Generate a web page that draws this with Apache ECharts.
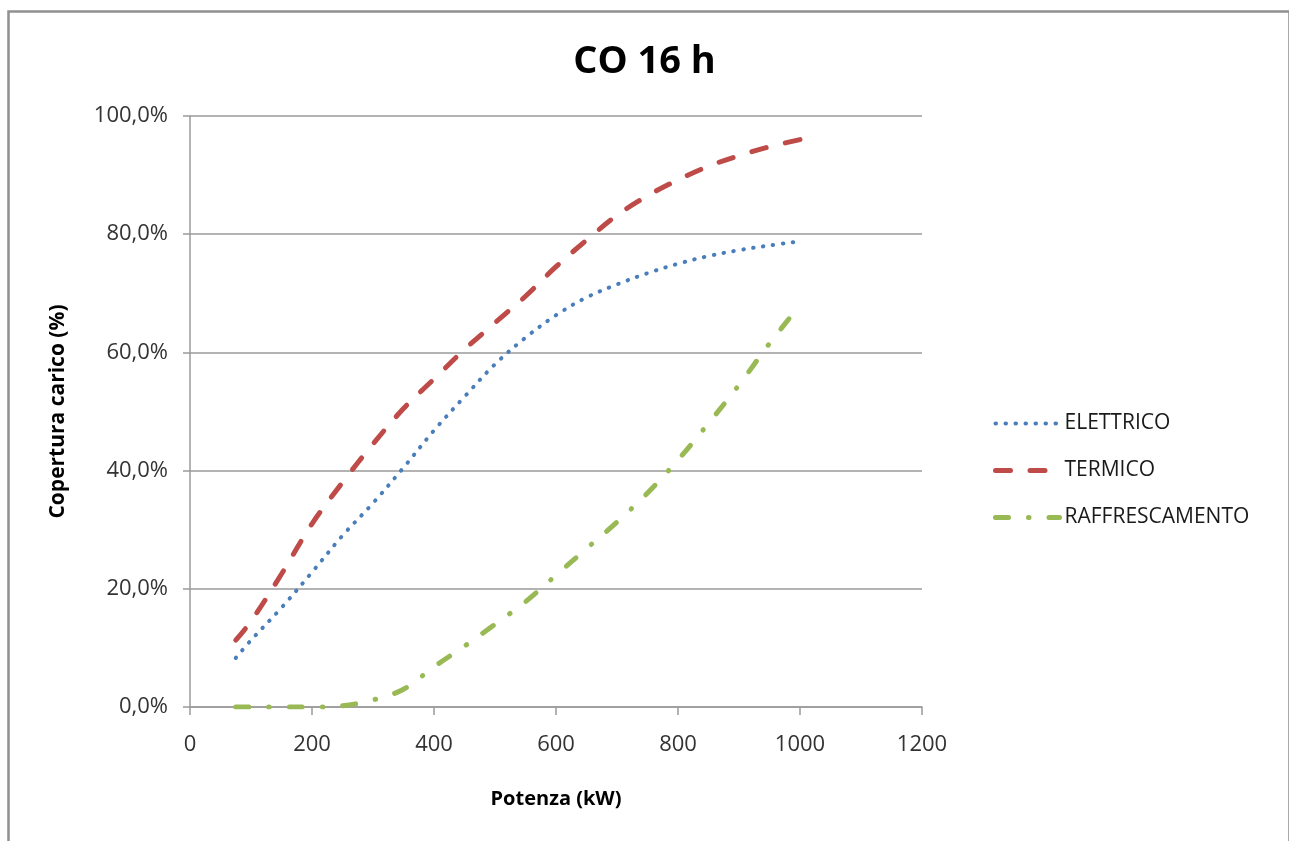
<!DOCTYPE html>
<html>
<head>
<meta charset="utf-8">
<script src="https://cdn.jsdelivr.net/npm/echarts@6/dist/echarts.min.js"></script>
<style>
  html, body { margin: 0; padding: 0; background: #ffffff; }
  #chart { width: 1289px; height: 841px; }
</style>
</head>
<body>
<div id="chart"></div>
<script>
// Potenza (kW) sampled along each curve
const kw = [75, 100, 150, 200, 250, 300, 350, 400, 450, 500, 550, 600, 650, 700, 750, 800, 850, 900, 950, 1000];

// Copertura carico (%) per serie
const elettrico = [8.3, 11.3, 16.8, 22.8, 29.0, 34.5, 40.5, 46.8, 52.5, 58.0, 62.5, 66.3, 69.3, 71.5, 73.4, 75.0, 76.3, 77.3, 78.1, 78.8];
const termico = [11.3, 14.5, 22.5, 31.0, 38.0, 44.5, 50.5, 55.5, 60.5, 65.0, 69.5, 74.5, 79.0, 83.2, 86.5, 89.2, 91.5, 93.3, 94.8, 96.0];
const raffrescamento = [0.0, 0.0, 0.0, 0.0, 0.2, 1.2, 3.0, 6.8, 10.3, 14.0, 17.8, 22.3, 26.8, 31.3, 36.2, 41.8, 48.0, 54.5, 61.5, 68.0];

const seriesNames = ['ELETTRICO', 'TERMICO', 'RAFFRESCAMENTO'];

// Axis ranges
const xMin = 0, xMax = 1200, xStep = 200;
const yMin = 0, yMax = 100, yStep = 20;

const FONT = '"Open Sans", "DejaVu Sans", sans-serif';
const pairs = (ys) => kw.map((x, i) => [x, ys[i]]);

// Line styles shared by the curves and their legend keys
const styles = [
  { color: '#4a7ebb', width: 4, type: [0.5, 9.5], cap: 'round' },
  { color: '#be4b48', width: 5, type: [15, 19.5], cap: 'round' },
  { color: '#98b954', width: 5, type: [13, 20, 0.5, 20], cap: 'round' }
];

const chart = echarts.init(document.getElementById('chart'), null, { renderer: 'canvas' });

const option = {
  backgroundColor: '#ffffff',
  animation: false,
  title: {
    text: 'CO 16 h',
    left: 'center',
    top: 38,
    textStyle: { fontFamily: FONT, fontSize: 38, fontWeight: 'bold', color: '#000000' }
  },
  graphic: [{
    type: 'rect',
    left: 6, top: 9,
    shape: { width: 1281, height: 900 },
    style: { fill: 'none', stroke: '#909090', lineWidth: 2.5 },
    silent: true
  }],
  legend: {
    orient: 'vertical',
    left: 988,
    top: 408,
    itemWidth: 64,
    itemHeight: 20,
    itemGap: 26,
    itemStyle: { opacity: 0 },
    textStyle: { fontFamily: FONT, fontSize: 21, color: '#1a1a1a' },
    data: seriesNames.map((name, i) => ({
      name: name,
      lineStyle: { width: styles[i].width, type: styles[i].type, cap: 'round', color: styles[i].color }
    }))
  },
  grid: { left: 190, right: 367, top: 116, bottom: 134, containLabel: false },
  xAxis: {
    type: 'value',
    min: xMin, max: xMax, interval: xStep,
    name: 'Potenza (kW)',
    nameLocation: 'middle',
    nameGap: 82,
    nameTextStyle: { fontFamily: FONT, fontSize: 20, fontWeight: 'bold', color: '#000000' },
    axisLine: { show: true, lineStyle: { color: '#9a9a9a', width: 1.5 } },
    axisTick: { show: true, length: 8, lineStyle: { color: '#9a9a9a', width: 1.5 } },
    axisLabel: {
      margin: 27, fontFamily: FONT, fontSize: 22, color: '#333333',
      formatter: (v) => String(v)
    },
    splitLine: { show: false }
  },
  yAxis: {
    type: 'value',
    min: yMin, max: yMax, interval: yStep,
    name: 'Copertura carico (%)',
    nameLocation: 'middle',
    nameGap: 121,
    nameTextStyle: { fontFamily: FONT, fontSize: 21, fontWeight: 'bold', color: '#000000' },
    axisLine: { show: true, lineStyle: { color: '#9a9a9a', width: 1.5 } },
    axisTick: { show: true, length: 7, lineStyle: { color: '#9a9a9a', width: 1.5 } },
    axisLabel: {
      margin: 22, fontFamily: FONT, fontSize: 22, color: '#333333',
      formatter: (v) => v.toFixed(1).replace('.', ',') + '%'
    },
    splitLine: { show: true, lineStyle: { color: '#9a9a9a', width: 1.5 } }
  },
  series: [elettrico, termico, raffrescamento].map((ys, i) => ({
    name: seriesNames[i],
    type: 'line',
    data: pairs(ys),
    smooth: 0.35,
    symbol: 'none',
    color: styles[i].color,
    lineStyle: styles[i]
  }))
};

chart.setOption(option);
</script>
</body>
</html>
